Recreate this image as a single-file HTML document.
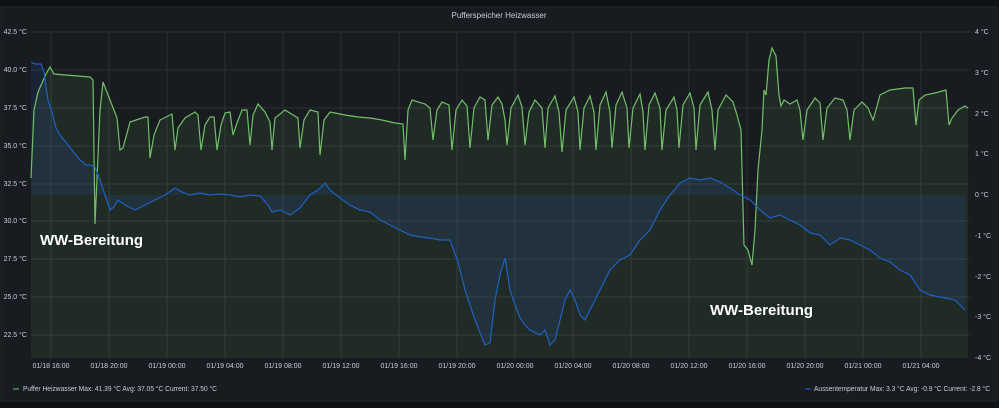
<!DOCTYPE html>
<html><head><style>
body{margin:0;background:#111217;width:999px;height:403px;overflow:hidden;font-family:"Liberation Sans",sans-serif}
</style></head><body>
<svg width="999" height="403" xmlns="http://www.w3.org/2000/svg" font-family="Liberation Sans, sans-serif">
<rect x="0" y="0" width="999" height="403" fill="#111217"/>
<rect x="1" y="7" width="996" height="394" fill="#181b1f" stroke="#22252b"/>
<text x="499" y="18" fill="#ccccdc" font-size="8" text-anchor="middle">Pufferspeicher Heizwasser</text>
<g stroke="#2c3035" stroke-width="1">
<line x1="31" y1="32" x2="970" y2="32"/><line x1="31" y1="70" x2="970" y2="70"/><line x1="31" y1="108" x2="970" y2="108"/><line x1="31" y1="146" x2="970" y2="146"/><line x1="31" y1="184" x2="970" y2="184"/><line x1="31" y1="221" x2="970" y2="221"/><line x1="31" y1="259" x2="970" y2="259"/><line x1="31" y1="297" x2="970" y2="297"/><line x1="31" y1="335" x2="970" y2="335"/>
<line x1="51" y1="32" x2="51" y2="358"/><line x1="109" y1="32" x2="109" y2="358"/><line x1="167" y1="32" x2="167" y2="358"/><line x1="225" y1="32" x2="225" y2="358"/><line x1="283" y1="32" x2="283" y2="358"/><line x1="341" y1="32" x2="341" y2="358"/><line x1="399" y1="32" x2="399" y2="358"/><line x1="457" y1="32" x2="457" y2="358"/><line x1="515" y1="32" x2="515" y2="358"/><line x1="573" y1="32" x2="573" y2="358"/><line x1="631" y1="32" x2="631" y2="358"/><line x1="689" y1="32" x2="689" y2="358"/><line x1="747" y1="32" x2="747" y2="358"/><line x1="805" y1="32" x2="805" y2="358"/><line x1="863" y1="32" x2="863" y2="358"/><line x1="921" y1="32" x2="921" y2="358"/>
</g>
<g id="plots"></g>
<g fill="#ccccdc" font-size="7">
<text x="27" y="34" text-anchor="end">42.5 °C</text><text x="27" y="72" text-anchor="end">40.0 °C</text><text x="27" y="110" text-anchor="end">37.5 °C</text><text x="27" y="148" text-anchor="end">35.0 °C</text><text x="27" y="186" text-anchor="end">32.5 °C</text><text x="27" y="223" text-anchor="end">30.0 °C</text><text x="27" y="261" text-anchor="end">27.5 °C</text><text x="27" y="299" text-anchor="end">25.0 °C</text><text x="27" y="337" text-anchor="end">22.5 °C</text>
<text x="975" y="34">4 °C</text><text x="975" y="75">3 °C</text><text x="975" y="116">2 °C</text><text x="975" y="156">1 °C</text><text x="975" y="197">0 °C</text><text x="975" y="238">-1 °C</text><text x="975" y="279">-2 °C</text><text x="975" y="319">-3 °C</text><text x="975" y="360">-4 °C</text>
<text x="51" y="368" text-anchor="middle">01/18 16:00</text><text x="109" y="368" text-anchor="middle">01/18 20:00</text><text x="167" y="368" text-anchor="middle">01/19 00:00</text><text x="225" y="368" text-anchor="middle">01/19 04:00</text><text x="283" y="368" text-anchor="middle">01/19 08:00</text><text x="341" y="368" text-anchor="middle">01/19 12:00</text><text x="399" y="368" text-anchor="middle">01/19 16:00</text><text x="457" y="368" text-anchor="middle">01/19 20:00</text><text x="515" y="368" text-anchor="middle">01/20 00:00</text><text x="573" y="368" text-anchor="middle">01/20 04:00</text><text x="631" y="368" text-anchor="middle">01/20 08:00</text><text x="689" y="368" text-anchor="middle">01/20 12:00</text><text x="747" y="368" text-anchor="middle">01/20 16:00</text><text x="805" y="368" text-anchor="middle">01/20 20:00</text><text x="863" y="368" text-anchor="middle">01/21 00:00</text><text x="921" y="368" text-anchor="middle">01/21 04:00</text>
<line x1="13" y1="389" x2="19" y2="389" stroke="#73bf69"/><text x="23" y="391" textLength="194" lengthAdjust="spacingAndGlyphs">Puffer Heizwasser  Max: 41.39 °C  Avg: 37.05 °C  Current: 37.50 °C</text>
<line x1="805" y1="389" x2="811" y2="389" stroke="#1f60c4"/><text x="814" y="391" textLength="176" lengthAdjust="spacingAndGlyphs">Aussentemperatur  Max: 3.3 °C  Avg: -0.9 °C  Current: -2.8 °C</text>
</g>
<text x="40" y="245" fill="#fff" font-size="15" font-weight="bold">WW-Bereitung</text>
<text x="710" y="315" fill="#fff" font-size="15" font-weight="bold">WW-Bereitung</text>
</svg>
<script>
var g=[[31,178],[34,110],[38,92],[46,74],[50,67],[54,74],[90,77],[93,80],[95,224],[100,110],[103,82],[117,118],[120,150],[123,148],[130,122],[145,117],[148,117],[150,158],[154,135],[160,120],[172,114],[175,150],[178,128],[185,118],[195,112],[198,115],[201,150],[205,125],[210,117],[214,117],[217,150],[221,125],[225,113],[230,112],[233,135],[237,123],[242,110],[247,110],[250,145],[253,115],[258,104],[265,112],[270,122],[272,150],[275,118],[285,110],[298,118],[300,148],[304,120],[310,110],[318,112],[320,155],[324,120],[330,112],[345,115],[358,117],[370,118],[382,120],[395,123],[403,124],[405,160],[408,110],[412,100],[425,104],[430,108],[433,140],[437,110],[442,102],[449,105],[452,150],[456,110],[462,100],[467,106],[470,148],[474,108],[480,97],[485,100],[488,140],[492,105],[498,97],[502,104],[505,120],[507,145],[511,108],[518,95],[522,107],[525,145],[529,112],[535,100],[542,108],[545,148],[548,108],[555,96],[559,112],[562,152],[566,110],[574,97],[578,112],[580,150],[584,108],[590,96],[594,112],[596,150],[600,105],[606,92],[610,112],[612,148],[616,105],[622,92],[627,108],[629,148],[633,108],[640,94],[643,112],[645,150],[649,105],[655,93],[660,108],[662,150],[666,110],[674,97],[677,110],[679,148],[683,105],[690,93],[694,108],[696,150],[700,105],[708,92],[712,110],[715,150],[718,110],[726,95],[733,102],[737,115],[741,130],[744,245],[748,250],[752,265],[755,230],[758,170],[762,130],[764,90],[766,95],[769,60],[772,48],[776,56],[779,95],[781,106],[784,100],[790,104],[797,100],[800,110],[803,140],[807,110],[815,98],[820,103],[823,140],[827,108],[835,98],[843,100],[847,110],[850,140],[854,110],[862,102],[868,108],[873,120],[876,110],[880,95],[890,90],[905,88],[913,88],[916,125],[919,100],[925,95],[935,93],[946,90],[949,125],[952,118],[958,110],[965,106],[968,108]];
var b=[[31,62],[35,64],[41,64],[44,72],[48,100],[52,112],[56,128],[60,135],[64,140],[68,145],[72,150],[76,155],[80,160],[86,165],[90,165],[95,167],[100,180],[105,195],[110,210],[114,207],[118,200],[125,205],[135,210],[145,205],[155,200],[165,195],[175,188],[182,192],[190,195],[200,193],[210,195],[220,194],[230,195],[240,197],[250,195],[260,196],[268,205],[272,212],[280,210],[290,215],[300,208],[310,195],[318,190],[325,183],[330,190],[340,198],[350,205],[360,210],[370,212],[380,220],[390,225],[400,230],[410,235],[420,237],[430,238],[440,240],[450,240],[458,262],[465,290],[475,320],[485,345],[490,343],[495,300],[500,275],[505,258],[510,290],[515,305],[520,318],[525,325],[530,330],[540,335],[545,330],[550,345],[555,340],[560,320],[565,300],[570,290],[575,300],[580,315],[585,320],[590,310],[595,300],[600,290],[610,270],[620,260],[630,255],[640,240],[650,230],[660,210],[670,195],[680,183],[690,178],[700,180],[710,178],[720,182],[730,188],[740,195],[750,200],[760,210],[770,218],[780,215],[790,220],[800,225],[810,233],[820,235],[830,245],[840,238],[850,240],[860,245],[870,250],[880,258],[890,262],[900,270],[910,275],[920,290],[930,295],[945,298],[955,300],[965,310]];
function s(a){return a.map(p=>p.join(',')).join(' ');}
var h='';
h+='<polygon points="31,358 '+s(g)+' 968,358" fill="#73bf69" fill-opacity="0.1"/>';
h+='<polygon points="31,195 '+s(b)+' 965,195" fill="#1f60c4" fill-opacity="0.15"/>';
h+='<polyline points="'+s(g)+'" fill="none" stroke="#73bf69" stroke-width="1.2"/>';
h+='<polyline points="'+s(b)+'" fill="none" stroke="#1f60c4" stroke-width="1.2"/>';
document.getElementById('plots').innerHTML=h;
</script>
</body></html>
